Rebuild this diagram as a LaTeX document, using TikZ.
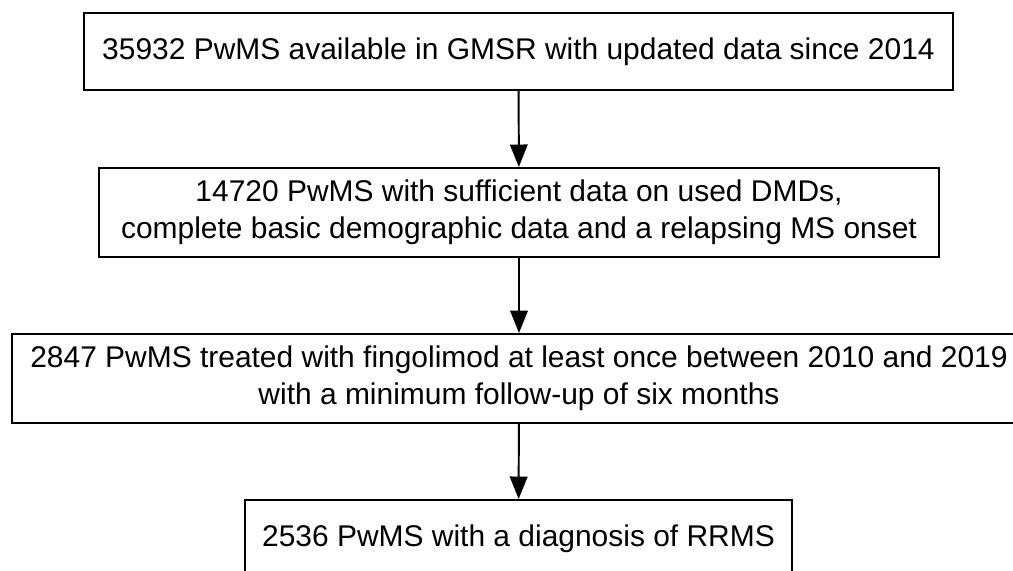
\documentclass[tikz,border=0pt]{standalone}
\usepackage{fontspec}
\setmainfont{Liberation Sans}
\usetikzlibrary{arrows.meta}
\tikzset{
    >={Triangle[length=16pt,width=12.5pt]},
    every node/.append style={align=center,font=\fontsize{21.3}{26}\selectfont},
    stage/.style={rectangle,draw=black,line width=1.4pt,inner sep=0pt},
    flow/.style={->,line width=1.4pt},
}
\begin{document}
\begin{tikzpicture}[x=0.025cm,y=-0.025cm]
        \useasboundingbox (0,0) rectangle (1013,571);
                \node[stage,minimum width=869*0.025cm,minimum height=77*0.025cm] (gmsr) at (518.5, 51.5)
                    {35932 PwMS available in GMSR with updated data since 2014};
                \node[stage,minimum width=840*0.025cm,minimum height=89*0.025cm] (dmd) at (519, 212.5)
                    {14720 PwMS with sufficient data on used DMDs,\\complete basic demographic data and a relapsing MS onset};
                \node[stage,minimum width=1014*0.025cm,minimum height=89*0.025cm] (fty) at (519, 378.5)
                    {2847 PwMS treated with fingolimod at least once between 2010 and 2019\\with a minimum follow-up of six months};
                \node[stage,minimum width=547*0.025cm,minimum height=78*0.025cm] (rrms) at (518.5, 539)
                    {2536 PwMS with a diagnosis of RRMS};

                \draw[flow] (gmsr) -- (dmd);
                \draw[flow] (dmd) -- (fty);
                \draw[flow] (fty) -- (rrms);
        \end{tikzpicture}
\end{document}
